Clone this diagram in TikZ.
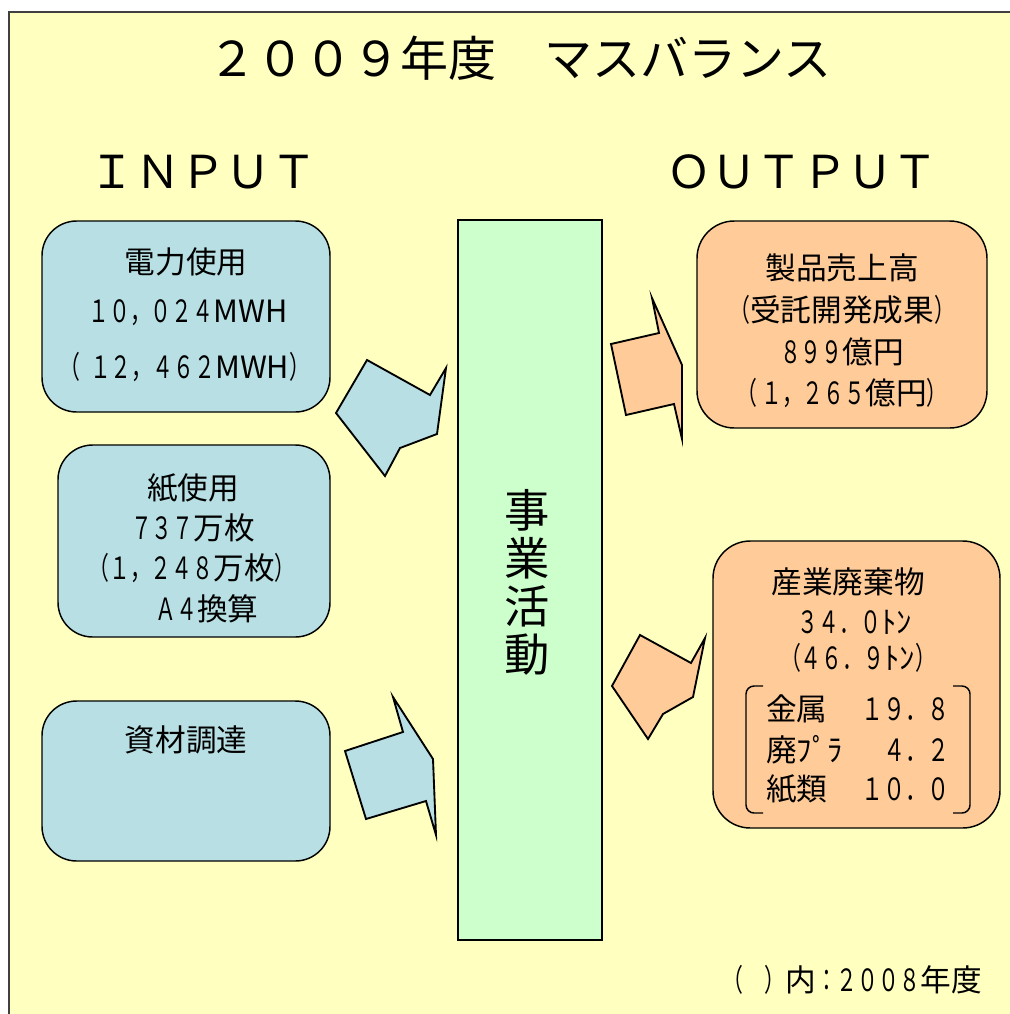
\documentclass[tikz,border=0pt]{standalone}
\usepackage{fontspec}
\usepackage{graphicx}
\setmainfont{Noto Sans CJK JP}
\newcommand\nx[1]{\scalebox{0.68}[1]{#1}}
\definecolor{bgyellow}{HTML}{FFFFC0}
\definecolor{inblue}{HTML}{B8E0E4}
\definecolor{outorange}{HTML}{FFCC99}
\definecolor{actgreen}{HTML}{CCFFCC}
\begin{document}
\begin{tikzpicture}[x=0.75pt,y=-0.75pt,
  ibox/.style={draw=black, line width=1.1pt, fill=inblue, rounded corners=26pt, inner sep=0pt},
  obox/.style={draw=black, line width=1.1pt, fill=outorange, rounded corners=28pt, inner sep=0pt},
  barrow/.style={draw=black, line width=1.4pt, fill=inblue},
  oarrow/.style={draw=black, line width=1.4pt, fill=outorange},
  txt/.style={inner sep=0pt, font=\fontsize{23}{28}\selectfont},
  head/.style={inner sep=0pt, font=\fontsize{34}{40}\selectfont},
  brk/.style={draw=black, line width=1.1pt, rounded corners=6pt}]
\useasboundingbox (0,0) rectangle (1010,1014);
\fill[white] (0,0) rectangle (1010,1014);
\path[fill=bgyellow, draw=black!75, line width=1.6pt] (9,12) rectangle (1014,1018);

% title and headings
\node[inner sep=0pt, font=\fontsize{36}{40}\selectfont] (title) at (520,58) {２００９年度　マスバランス};
\node[head] (inp) at (203,172) {ＩＮＰＵＴ};
\node[head] (outp) at (802,172) {ＯＵＴＰＵＴ};

% input boxes
\node[ibox, minimum width=288*0.75pt, minimum height=191*0.75pt] (elec) at (186,316.5) {};
\node[ibox, minimum width=272*0.75pt, minimum height=192*0.75pt] (paper) at (194,541) {};
\node[ibox, minimum width=288*0.75pt, minimum height=160*0.75pt] (mat) at (186,781) {};

\node[txt] (e1) at (186,262) {電力使用};
\node[txt] (e2) at (188,313) {\nx{１０，０２４}MWH};
\node[txt] (e3) at (185,367) {\nx{（}\hspace{7pt}\nx{１２，４６２}MWH\nx{）}};

\node[txt] (p1) at (193,488) {紙使用};
\node[txt] (p2) at (193,528) {\nx{７３７}万枚};
\node[txt] (p3) at (192,568) {\nx{（１，２４８}万枚\nx{）}};
\node[txt] (p4) at (207,609) {\nx{Ａ４}換算};

\node[txt] (m1) at (186,740) {資材調達};

% central activity
\node[draw=black, line width=1.1pt, fill=actgreen, minimum width=144*0.75pt, minimum height=720*0.75pt, inner sep=0pt] (act) at (530,580) {};
\node[inner sep=0pt, align=center, font=\fontsize{34}{36}\selectfont] (actt) at (527,582) {事\\業\\活\\動};

% output boxes
\node[obox, minimum width=290*0.75pt, minimum height=207*0.75pt] (sales) at (842,324.5) {};
\node[obox, minimum width=287*0.75pt, minimum height=287*0.75pt] (waste) at (856.5,684.5) {};

\node[txt] (s1) at (842,268) {製品売上高};
\node[txt] (s2) at (842,310) {\nx{（}受託開発成果\nx{）}};
\node[txt] (s3) at (842,352) {\nx{８９９}億円};
\node[txt] (s4) at (842,393) {\nx{（}\hspace{3pt}\nx{１，２６５}億円\nx{）}};

\node[txt] (w1) at (848,582) {産業廃棄物};
\node[txt] (w2) at (855,622) {\nx{３４．０}ﾄﾝ};
\node[txt] (w3) at (858,658) {\nx{（４６．９}ﾄﾝ\nx{）}};

\node[txt, anchor=west] (k1) at (766,709) {金属};
\node[txt, anchor=west] (k2) at (766,750) {廃ﾌﾟﾗ};
\node[txt, anchor=west] (k3) at (766,789) {紙類};
\node[txt, anchor=east] (v1) at (950,709) {\scalebox{0.72}[1]{１９．８}};
\node[txt, anchor=east] (v2) at (950,750) {\scalebox{0.72}[1]{４．２}};
\node[txt, anchor=east] (v3) at (950,789) {\scalebox{0.72}[1]{１０．０}};

\draw[brk] (763,686) -- (746,686) -- (746,813) -- (763,813);
\draw[brk] (953,686) -- (970,686) -- (970,813) -- (953,813);

% block arrows
\draw[barrow] (367,360) -- (430,395) -- (446,368) -- (437,434) -- (400,448) -- (385,476) -- (336,413) -- cycle;
\draw[barrow] (393,697) -- (433,759) -- (436,835) -- (426,801) -- (366,819) -- (345,751) -- (403,732) -- cycle;
\draw[oarrow] (652,298) -- (682,365) -- (682,439) -- (674,404) -- (626,415) -- (611,344) -- (659,333) -- cycle;
\draw[oarrow] (640,635) -- (691,663) -- (705,638) -- (693,697) -- (663,714) -- (648,739) -- (612,686) -- cycle;

% footnote
\node[txt, anchor=east] (note) at (982,980) {\nx{（　）}内\nx{：２００８}年度};
\end{tikzpicture}
\end{document}
